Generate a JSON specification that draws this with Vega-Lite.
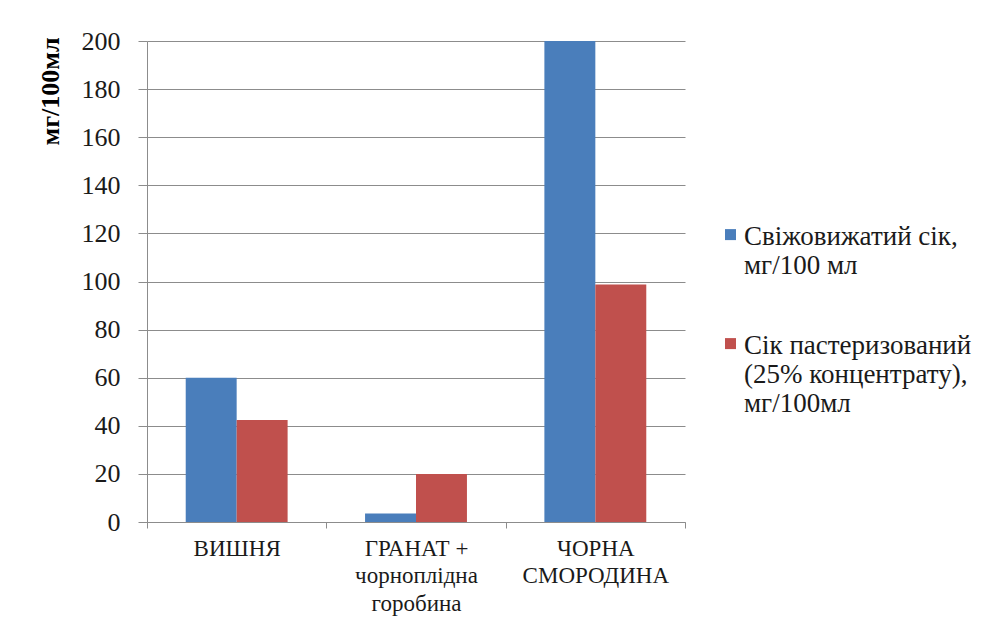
{
  "$schema": "https://vega.github.io/schema/vega-lite/v6.json",
  "autosize": {"type": "none"},
  "padding": {"left": 147, "top": 41, "right": 318, "bottom": 104},
  "width": 538,
  "height": 481,
  "background": "white",
  "data": {
    "values": [
      {"cat": "ВИШНЯ", "series": "Свіжовижатий сік,\nмг/100 мл", "value": 60},
      {"cat": "ВИШНЯ", "series": "Сік пастеризований\n(25% концентрату),\nмг/100мл", "value": 42.4},
      {"cat": "ГРАНАТ +\nчорноплідна\nгоробина", "series": "Свіжовижатий сік,\nмг/100 мл", "value": 3.5},
      {"cat": "ГРАНАТ +\nчорноплідна\nгоробина", "series": "Сік пастеризований\n(25% концентрату),\nмг/100мл", "value": 20},
      {"cat": "ЧОРНА\nСМОРОДИНА", "series": "Свіжовижатий сік,\nмг/100 мл", "value": 200},
      {"cat": "ЧОРНА\nСМОРОДИНА", "series": "Сік пастеризований\n(25% концентрату),\nмг/100мл", "value": 98.8}
    ]
  },
  "mark": {"type": "bar"},
  "encoding": {
    "x": {
      "field": "cat",
      "type": "nominal",
      "sort": null,
      "scale": {"paddingInner": 0, "paddingOuter": 0},
      "axis": {
        "title": null,
        "labelAngle": 0,
        "labelExpr": "datum.value ? split(datum.value, '\\n') : ''",
        "labelFont": "Liberation Serif",
        "labelFontSize": 23,
        "labelLineHeight": 27.5,
        "labelColor": "#1a1a1a",
        "labelPadding": 9,
        "tickBand": "extent",
        "tickSize": 6,
        "tickColor": "#8c8c8c",
        "domainColor": "#8c8c8c",
        "grid": false
      }
    },
    "xOffset": {
      "field": "series",
      "type": "nominal",
      "sort": null,
      "scale": {"paddingInner": 0, "paddingOuter": 0.76}
    },
    "y": {
      "field": "value",
      "type": "quantitative",
      "scale": {"domain": [0, 200], "nice": false},
      "axis": {
        "title": "мг/100мл",
        "titleFont": "Liberation Serif",
        "titleFontSize": 26,
        "titleFontWeight": "bold",
        "titleColor": "#000000",
        "titleAngle": -90,
        "titleAlign": "center",
        "titleBaseline": "middle",
        "titleX": -97,
        "titleY": 50,
        "values": [0, 20, 40, 60, 80, 100, 120, 140, 160, 180, 200],
        "labelFont": "Liberation Serif",
        "labelFontSize": 26,
        "labelColor": "#1a1a1a",
        "labelPadding": 18,
        "tickSize": 9,
        "tickColor": "#8c8c8c",
        "domainColor": "#8c8c8c",
        "gridColor": "#8c8c8c",
        "gridWidth": 1
      }
    },
    "color": {
      "field": "series",
      "type": "nominal",
      "sort": null,
      "scale": {"range": ["#4a7ebb", "#c0504d"]},
      "legend": {
        "title": null,
        "orient": "none",
        "legendX": 570,
        "legendY": 190,
        "padding": 0,
        "symbolType": "M-1,-2.8H1V-0.8H-1Z",
        "symbolSize": 121,
        "symbolStrokeWidth": 0,
        "labelExpr": "split(datum.label, '\\n')",
        "labelFont": "Liberation Serif",
        "labelFontSize": 27,
        "labelLineHeight": 37,
        "labelColor": "#1a1a1a",
        "labelLimit": 0,
        "labelOffset": 0,
        "labelBaseline": "alphabetic",
        "rowPadding": 52
      }
    }
  },
  "config": {
    "view": {"stroke": null},
    "axis": {"domainWidth": 1, "tickWidth": 1}
  }
}
